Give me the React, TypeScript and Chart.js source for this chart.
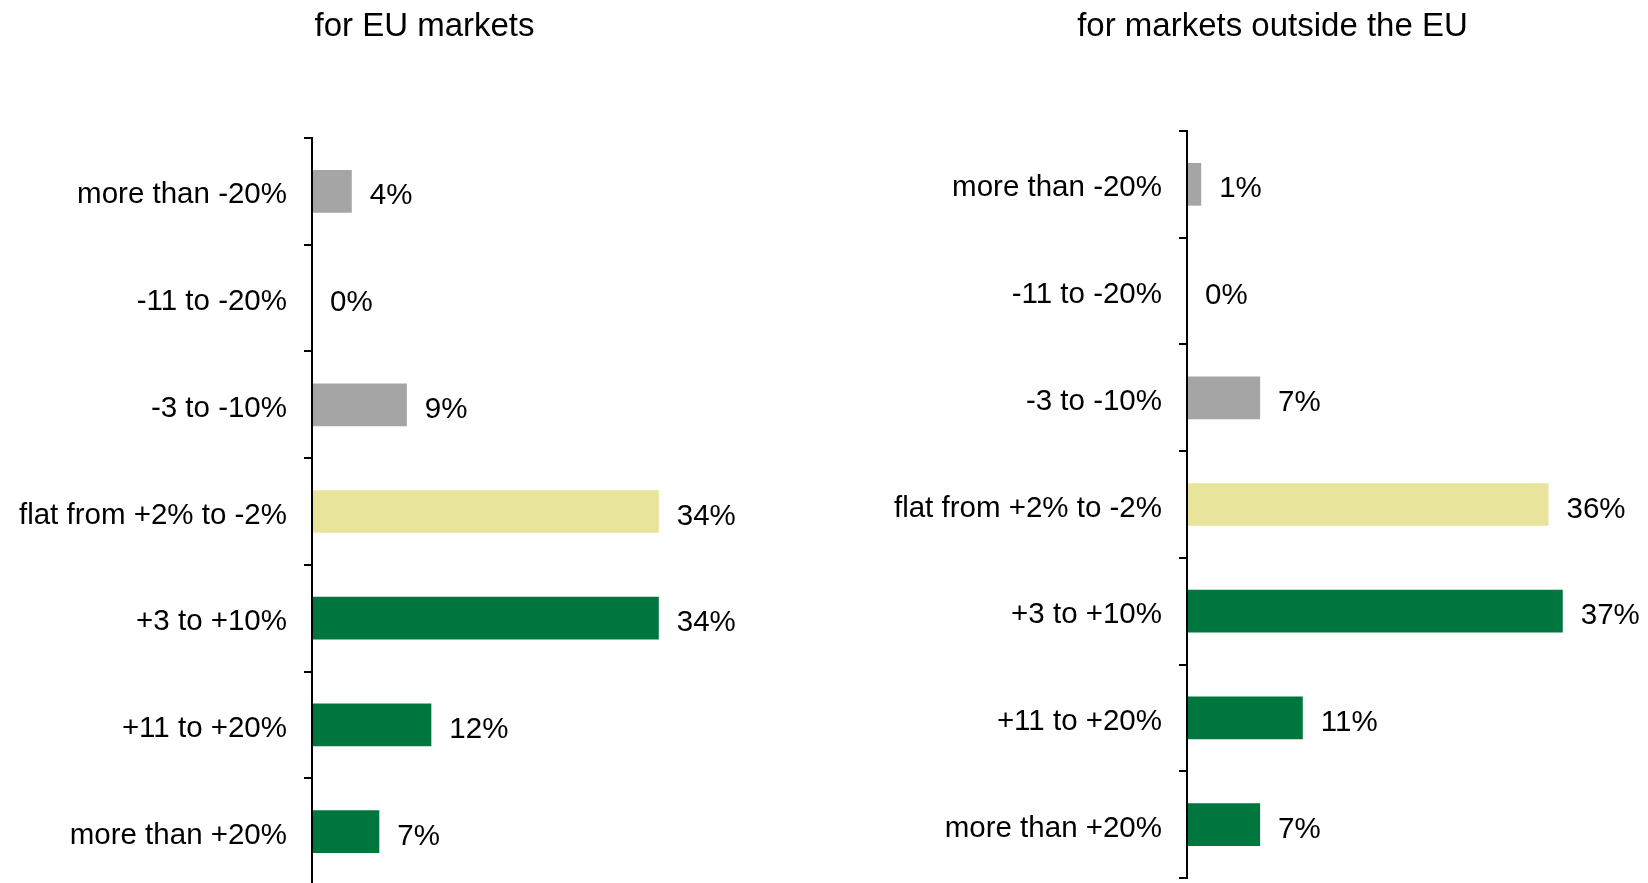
import React, { useEffect, useRef } from 'react';
import { Chart, registerables } from 'chart.js';

Chart.register(...registerables);

// ---- data ----
const categories = [
  'more than -20%',
  '-11 to -20%',
  '-3 to -10%',
  'flat from +2% to -2%',
  '+3 to +10%',
  '+11 to +20%',
  'more than +20%',
];
const euValues = [3.9, 0, 9.3, 34.0, 34.0, 11.7, 6.6];
const nonEuValues = [1.4, 0, 7.2, 35.6, 37.0, 11.4, 7.2];
const euTitle = 'for EU markets';
const nonEuTitle = 'for markets outside the EU';

// ---- styles ----
const GRAY = '#A5A5A5';
const YELLOW = '#E8E49B';
const GREEN = '#00763F';
const barColors = [GRAY, GRAY, GRAY, YELLOW, GREEN, GREEN, GREEN];
const FONT = '"Liberation Sans", Arial, sans-serif';
const LABEL_SIZE = 29.5;
const TITLE_SIZE = 33;

const valueLabelPlugin = {
  id: 'valueLabels',
  afterDatasetsDraw(chart: any) {
    const ctx = chart.ctx;
    const meta = chart.getDatasetMeta(0);
    const data = chart.data.datasets[0].data as number[];
    ctx.save();
    ctx.font = `${LABEL_SIZE}px ${FONT}`;
    ctx.fillStyle = '#000';
    ctx.textAlign = 'left';
    ctx.textBaseline = 'alphabetic';
    meta.data.forEach((bar: any, i: number) => {
      ctx.fillText(Math.round(data[i]) + '%', bar.x + 18, bar.y + 13);
    });
    ctx.restore();
  },
};

// Panel title drawn at a fixed centre over the panel
const panelTitlePlugin = {
  id: 'panelTitle',
  afterDraw(chart: any, _args: any, opts: any) {
    const ctx = chart.ctx;
    ctx.save();
    ctx.font = `${TITLE_SIZE}px ${FONT}`;
    ctx.fillStyle = '#000';
    ctx.textAlign = 'center';
    ctx.textBaseline = 'alphabetic';
    ctx.fillText(opts.text, opts.centerX, opts.baselineY);
    ctx.restore();
  },
};

type PanelProps = {
  title: string;
  values: number[];
  left: number;
  width: number;
  height: number;
  xMax: number;
  yWidth: number;
  padding: { left: number; right: number; top: number; bottom: number };
  titleCenterX: number;
};

function Panel(p: PanelProps) {
  const ref = useRef<HTMLCanvasElement | null>(null);
  useEffect(() => {
    if (!ref.current) return;
    const chart = new Chart(ref.current, {
      type: 'bar',
      data: {
        labels: categories,
        datasets: [
          {
            data: p.values,
            backgroundColor: barColors,
            borderWidth: 0,
            barPercentage: 0.4,
            categoryPercentage: 1,
          },
        ],
      },
      options: {
        indexAxis: 'y',
        animation: false,
        responsive: false,
        devicePixelRatio: 1,
        layout: { padding: p.padding },
        plugins: {
          legend: { display: false },
          tooltip: { enabled: false },
          title: { display: false },
          panelTitle: { text: p.title, centerX: p.titleCenterX, baselineY: 36 },
        },
        scales: {
          x: { display: false, min: 0, max: p.xMax },
          y: {
            type: 'category',
            position: 'left',
            offset: true,
            grid: {
              display: true,
              drawOnChartArea: false,
              drawTicks: true,
              tickLength: 8,
              color: '#000',
              lineWidth: 2,
              offset: true,
            },
            border: { display: true, color: '#000', width: 2, z: 1 },
            ticks: {
              color: '#000',
              font: { family: FONT, size: LABEL_SIZE },
              padding: 17,
              labelOffset: 4,
              autoSkip: false,
            },
            afterFit: (s: any) => {
              s.width = p.yWidth;
              s.paddingTop = 0;
              s.paddingBottom = 0;
            },
          },
        },
      } as any,
      plugins: [valueLabelPlugin, panelTitlePlugin],
    });
    return () => chart.destroy();
  }, []);
  return (
    <canvas
      ref={ref}
      width={p.width}
      height={p.height}
      style={{ position: 'absolute', left: p.left, top: 0, width: p.width, height: p.height }}
    />
  );
}

export default function App() {
  return (
    <div
      style={{
        position: 'absolute',
        left: 0,
        top: 0,
        width: 1648,
        height: 883,
        overflow: 'hidden',
        background: '#fff',
      }}
    >
      <Panel
        title={euTitle}
        values={euValues}
        left={0}
        width={850}
        height={885}
        xMax={50}
        yWidth={312}
        padding={{ left: 0, right: 28, top: 138, bottom: 0 }}
        titleCenterX={424.5}
      />
      <Panel
        title={nonEuTitle}
        values={nonEuValues}
        left={880}
        width={768}
        height={883}
        xMax={45}
        yWidth={307}
        padding={{ left: 0, right: 4, top: 131, bottom: 5 }}
        titleCenterX={392.5}
      />
    </div>
  );
}
